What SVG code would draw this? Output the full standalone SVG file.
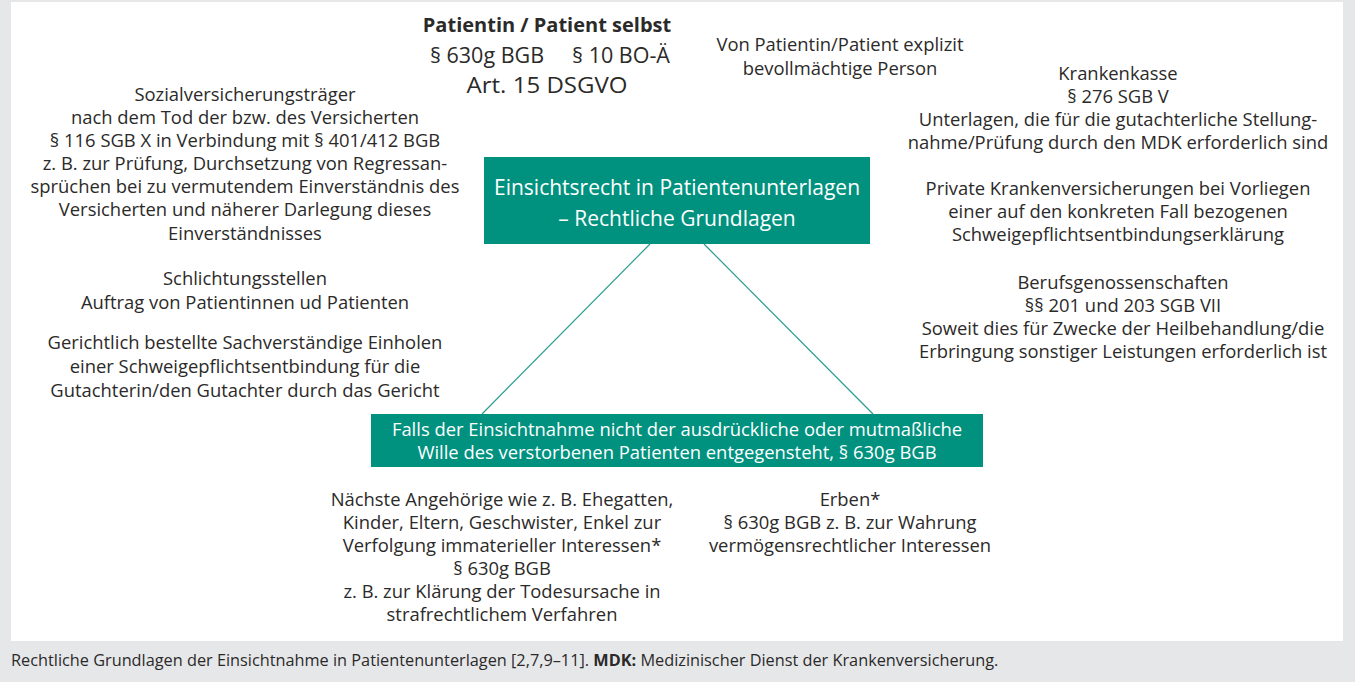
<svg xmlns="http://www.w3.org/2000/svg" width="1355" height="682" viewBox="0 0 1355 682">
<style>
.t{font-family:"Open Sans",Lato,"Liberation Sans",sans-serif;font-size:18.4px;fill:#2b2a29;text-anchor:middle}
.b{font-weight:bold}
.w{fill:#ffffff}
.box{fill:#00927f}
.big{font-size:21.5px}
.cap{font-family:"Open Sans",Lato,"Liberation Sans",sans-serif;font-size:16.3px;fill:#2b2a29}
</style>
<rect x="0" y="0" width="1355" height="682" fill="#e6e7e9"/>
<rect x="11" y="2" width="1332" height="639" fill="#ffffff"/>
<g id="connectors" stroke="#2a9d8f" stroke-width="1.2" fill="none">
<line x1="650" y1="244" x2="482" y2="414"/>
<line x1="704" y1="244" x2="873" y2="414"/>
</g>
<g id="center">
<rect class="box" x="484" y="157" width="386" height="87"/>
<text class="t w" x="677" y="195" style="font-size:21px">Einsichtsrecht in Patientenunterlagen</text>
<text class="t w" x="677" y="226" style="font-size:21px">– Rechtliche Grundlagen</text>
</g>
<g id="verstorben">
<rect class="box" x="371" y="414" width="612" height="53"/>
<text class="t w" x="677" y="436">Falls der Einsichtnahme nicht der ausdrückliche oder mutmaßliche</text>
<text class="t w" x="677" y="459">Wille des verstorbenen Patienten entgegensteht, § 630g BGB</text>
</g>
<g id="patient">
<text class="t b" x="547" y="32" style="font-size:20px">Patientin / Patient selbst</text>
<text class="t big" x="487" y="63">§ 630g BGB</text>
<text class="t big" x="621" y="63">§ 10 BO-Ä</text>
<text class="t big" x="547" y="93" textLength="161" lengthAdjust="spacingAndGlyphs">Art. 15 DSGVO</text>
</g>
<g id="bevollmaechtigt">
<text class="t" x="840" y="51">Von Patientin/Patient explizit</text>
<text class="t" x="840" y="75">bevollmächtige Person</text>
</g>
<g id="krankenkasse">
<text class="t" x="1118" y="80">Krankenkasse</text>
<text class="t" x="1118" y="103">§ 276 SGB V</text>
<text class="t" x="1118" y="126">Unterlagen, die für die gutachterliche Stellung-</text>
<text class="t" x="1118" y="149">nahme/Prüfung durch den MDK erforderlich sind</text>
</g>
<g id="pkv">
<text class="t" x="1118" y="195">Private Krankenversicherungen bei Vorliegen</text>
<text class="t" x="1118" y="218">einer auf den konkreten Fall bezogenen</text>
<text class="t" x="1118" y="241">Schweigepflichtsentbindungserklärung</text>
</g>
<g id="bg">
<text class="t" x="1123" y="289">Berufsgenossenschaften</text>
<text class="t" x="1123" y="312">§§ 201 und 203 SGB VII</text>
<text class="t" x="1123" y="335">Soweit dies für Zwecke der Heilbehandlung/die</text>
<text class="t" x="1123" y="358">Erbringung sonstiger Leistungen erforderlich ist</text>
</g>
<g id="sozialversicherung">
<text class="t" x="245" y="101">Sozialversicherungsträger</text>
<text class="t" x="245" y="124">nach dem Tod der bzw. des Versicherten</text>
<text class="t" x="245" y="147">§ 116 SGB X in Verbindung mit § 401/412 BGB</text>
<text class="t" x="245" y="170">z. B. zur Prüfung, Durchsetzung von Regressan-</text>
<text class="t" x="245" y="193">sprüchen bei zu vermutendem Einverständnis des</text>
<text class="t" x="245" y="216">Versicherten und näherer Darlegung dieses</text>
<text class="t" x="245" y="240">Einverständnisses</text>
</g>
<g id="schlichtung">
<text class="t" x="245" y="285">Schlichtungsstellen</text>
<text class="t" x="245" y="309">Auftrag von Patientinnen ud Patienten</text>
</g>
<g id="gericht">
<text class="t" x="245" y="349">Gerichtlich bestellte Sachverständige Einholen</text>
<text class="t" x="245" y="373">einer Schweigepflichtsentbindung für die</text>
<text class="t" x="245" y="397">Gutachterin/den Gutachter durch das Gericht</text>
</g>
<g id="angehoerige">
<text class="t" x="502" y="506">Nächste Angehörige wie z. B. Ehegatten,</text>
<text class="t" x="502" y="529">Kinder, Eltern, Geschwister, Enkel zur</text>
<text class="t" x="502" y="552">Verfolgung immaterieller Interessen*</text>
<text class="t" x="502" y="575">§ 630g BGB</text>
<text class="t" x="502" y="598">z. B. zur Klärung der Todesursache in</text>
<text class="t" x="502" y="621">strafrechtlichem Verfahren</text>
</g>
<g id="erben">
<text class="t" x="850" y="506">Erben*</text>
<text class="t" x="850" y="529">§ 630g BGB z. B. zur Wahrung</text>
<text class="t" x="850" y="552">vermögensrechtlicher Interessen</text>
</g>
<text class="cap" x="11" y="666">Rechtliche Grundlagen der Einsichtnahme in Patientenunterlagen [2,7,9–11]. <tspan font-weight="bold">MDK:</tspan> Medizinischer Dienst der Krankenversicherung.</text>
</svg>
